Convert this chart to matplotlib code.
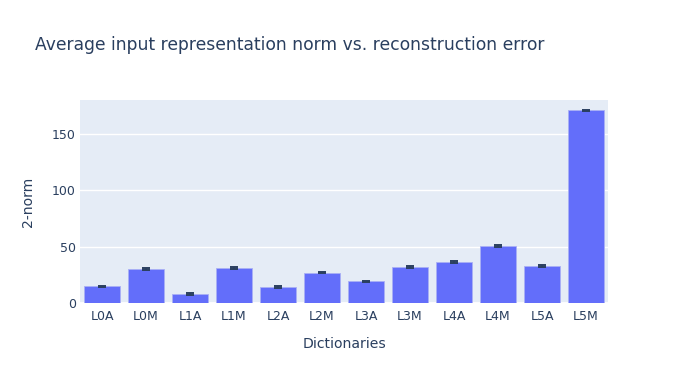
import numpy as np
import matplotlib.pyplot as plt

# Dictionaries and their average input norms
dictionaries = ['L0A', 'L0M', 'L1A', 'L1M', 'L2A', 'L2M',
                'L3A', 'L3M', 'L4A', 'L4M', 'L5A', 'L5M']
norms = [14.7, 30.1, 8.0, 31.0, 14.2, 26.8, 19.1, 31.9, 36.3, 50.4, 32.7, 170.8]
errors = [0.6, 0.6, 0.5, 0.6, 0.5, 0.6, 0.5, 0.6, 0.6, 0.6, 0.6, 0.7]

text_color = '#2a3f5f'
plt.rcParams['font.family'] = ['DejaVu Sans']

fig = plt.figure(figsize=(6.88, 3.84), dpi=100)
ax = fig.add_axes([80 / 688, 1 - 303 / 384, 528 / 688, 203 / 384])
ax.set_facecolor('#E5ECF6')

x = np.arange(len(dictionaries))
ax.bar(x, norms, width=0.8, color='#636efa', edgecolor='#aab0f5', linewidth=0.6,
       yerr=errors, error_kw=dict(ecolor=text_color, elinewidth=1.4, capsize=3, capthick=1.4),
       zorder=3)

ax.set_xlim(-0.5, len(dictionaries) - 0.5)
ax.set_ylim(0, 180)
ax.set_yticks([0, 50, 100, 150])
ax.set_xticks(x)
ax.set_xticklabels(dictionaries)
ax.grid(axis='y', color='white', linewidth=1, zorder=0)
ax.axhline(0, color='white', linewidth=2, zorder=1)
for s in ax.spines.values():
    s.set_visible(False)
ax.tick_params(length=0, labelsize=9, colors=text_color)
ax.tick_params(axis='x', pad=5)
ax.tick_params(axis='y', pad=3)

ax.set_xlabel('Dictionaries', fontsize=10.1, color=text_color, labelpad=10)
ax.set_ylabel('2-norm', fontsize=10.1, color=text_color, labelpad=12)
fig.text(35 / 688, 1 - 45 / 384, 'Average input representation norm vs. reconstruction error',
         fontsize=12.3, color=text_color, va='center', ha='left')

fig.savefig('out.png', dpi=100)
